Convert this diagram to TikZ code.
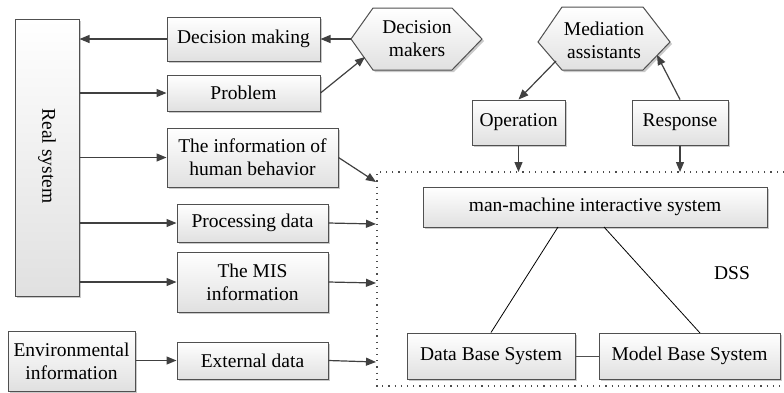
\documentclass[tikz,border=0pt]{standalone}
\usepackage{fontspec}
\setmainfont{Liberation Serif}
\usetikzlibrary{shadows,arrows.meta}
\definecolor{edge}{HTML}{505050}
\definecolor{arr}{HTML}{404040}
\tikzset{
  txt/.style={font=\fontsize{19.5}{23}\selectfont, align=center, text=black},
  box/.style={txt, draw=edge, line width=1pt, rectangle, inner sep=2pt,
    top color=white, bottom color=black!12,
    drop shadow={shadow xshift=2pt, shadow yshift=-2pt, fill=black!35, opacity=0.6}},
  hexa/.style={draw=edge, line width=1pt, top color=white, bottom color=black!12,
    drop shadow={shadow xshift=2pt, shadow yshift=-2pt, fill=black!35, opacity=0.6}},
  conn/.style={draw=arr, line width=1.2pt, -{Triangle[length=10pt,width=8pt]}},
  plain/.style={draw=black, line width=0.8pt},
  dotline/.style={draw=black!70, line width=1.2pt, dash pattern=on 1.2pt off 5pt},
}
\begin{document}
\begin{tikzpicture}[x=1pt,y=-1pt]
\useasboundingbox (0,0) rectangle (784,392);
% left boxes
\node[box, minimum width=64pt, minimum height=277pt] (rs) at (47,157.5) {};
\node[txt, rotate=-90] (rslabel) at (47,156) {Real system};
\node[box, minimum width=153pt, minimum height=44pt] (dmk) at (243.5,39) {Decision making};
\node[box, minimum width=153pt, minimum height=36pt] (prob) at (243.5,93) {Problem};
\node[box, minimum width=171pt, minimum height=59pt] (hum) at (252.5,157.5) {The information of\\human behavior};
\node[box, minimum width=151pt, minimum height=38pt] (proc) at (252.5,223) {Processing data};
\node[box, minimum width=151pt, minimum height=60pt] (mis) at (252.5,282) {The MIS\\information};
\node[box, minimum width=127pt, minimum height=60pt] (env) at (71.5,361) {Environmental\\information};
\node[box, minimum width=151pt, minimum height=37pt] (ext) at (252.5,360.5) {External data};
% hexagons
\path[hexa] (351,39) -- (373,8) -- (452,8) -- (482,39) -- (452,70) -- (373,70) -- cycle;
\node[txt] (dmak) at (417,39) {Decision\\makers};
\coordinate (dmakL) at (351,39);
\coordinate (dmakLL) at (365,57);
\path[hexa] (538,42) -- (562,7) -- (643,7) -- (670,42) -- (643,70) -- (562,70) -- cycle;
\node[txt] (med) at (604,40) {Mediation\\assistants};
\coordinate (medLL) at (556,61);
\coordinate (medLR) at (657,55);
% right boxes
\node[box, minimum width=93pt, minimum height=45pt] (op) at (518.5,122.5) {Operation};
\node[box, minimum width=96pt, minimum height=45pt] (resp) at (680,122.5) {Response};
\node[box, minimum width=344pt, minimum height=40pt] (mm) at (595,207) {man-machine interactive system};
\node[box, minimum width=168pt, minimum height=46pt] (db) at (491,356) {Data Base System};
\node[box, minimum width=181pt, minimum height=46pt] (mb) at (689.5,356) {Model Base System};
\node[txt] (dss) at (732,273) {DSS};
% dotted DSS region
\coordinate (dTL) at (377,172);
\coordinate (dBL) at (377,386);
\coordinate (dTR) at (784,172);
\coordinate (dBR) at (784,386);
\draw[dotline] (dTR) -- (dTL) -- (dBL) -- (dBR);
% entry points on dotted edge
\coordinate (eHum) at (376,182);
\coordinate (eProc) at (376,224);
\coordinate (eMis) at (376,283);
\coordinate (eExt) at (376,362);
\coordinate (eOp) at (518.5,172);
\coordinate (eResp) at (680,172);
\coordinate (mmL) at (558,227);
\coordinate (mmR) at (604,227);
\coordinate (mbT) at (700,333);
% connectors
\draw[conn] (dmk.west) -- (rs.east |- dmk.west);
\draw[conn] (dmakL) -- (dmk.east);
\draw[conn] (rs.east |- prob.west) -- (prob.west);
\draw[conn] (prob.east) -- (dmakLL);
\draw[conn] (rs.east |- hum.west) -- (hum.west);
\draw[conn] (rs.east |- proc.west) -- (proc.west);
\draw[conn] (rs.east |- mis.west) -- (mis.west);
\draw[conn] (env.east |- ext.west) -- (ext.west);
\draw[conn] (hum.east) -- (eHum);
\draw[conn] (proc.east) -- (eProc);
\draw[conn] (mis.east) -- (eMis);
\draw[conn] (ext.east) -- (eExt);
\draw[conn] (medLL) -- (op.north);
\draw[conn] (resp.north) -- (medLR);
\draw[conn] (op.south) -- (eOp);
\draw[conn] (resp.south) -- (eResp);
\draw[plain] (mmL) -- (db.north);
\draw[plain] (mmR) -- (mbT);
\draw[plain, draw=edge, line width=1pt] (db.east) -- (mb.west);
\end{tikzpicture}
\end{document}
